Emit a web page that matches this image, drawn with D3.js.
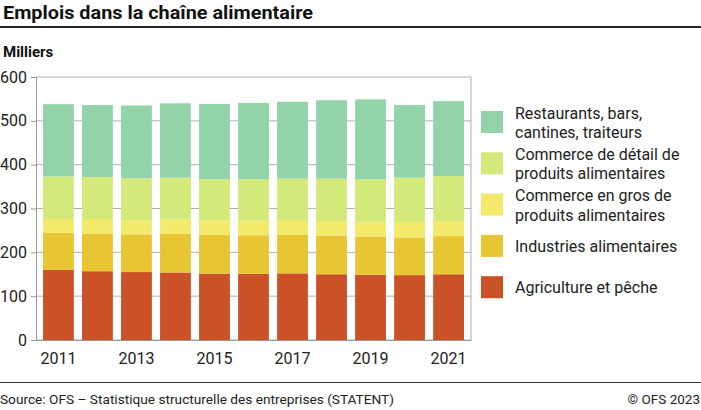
<!DOCTYPE html>
<html lang="fr">
<head>
<meta charset="UTF-8">
<title>Emplois dans la chaîne alimentaire</title>
<script src="https://d3js.org/d3.v7.min.js"></script>
<style>
  body { margin: 0; background: #fff; }
  svg { display: block; font-family: Roboto, "Noto Sans", sans-serif; }
</style>
</head>
<body>
<svg width="701" height="410"></svg>
<script>
// données (milliers d'emplois)
const years = ["2011","2012","2013","2014","2015","2016","2017","2018","2019","2020","2021"];
const agriculture  = [160, 157, 155, 154, 151.5, 151, 152, 150, 149, 148, 150];
const industries   = [84, 86, 86, 88, 88, 88, 87.5, 88, 87, 86, 87];
const commerceGros = [32, 33, 32, 32.5, 33.5, 33, 34.5, 33.5, 34, 35, 34.5];
const commerceDet  = [97, 96, 96, 96, 94, 95, 94, 96.5, 97, 101.5, 102.5];
const restaurants  = [165, 164, 166, 169.5, 171.5, 174, 175.5, 179, 182, 165.5, 171];
const yTicks = [0, 100, 200, 300, 400, 500, 600];
const xTickLabels = ["2011", "2013", "2015", "2017", "2019", "2021"];

const seriesKeys = ["agri", "ind", "gros", "det", "rest"];
const seriesLabels = {
  rest: ["Restaurants, bars,", "cantines, traiteurs"],
  det:  ["Commerce de détail de", "produits alimentaires"],
  gros: ["Commerce en gros de", "produits alimentaires"],
  ind:  ["Industries alimentaires"],
  agri: ["Agriculture et pêche"]
};
const colors = { agri: "#cb5226", ind: "#e8c532", gros: "#f3e96b", det: "#d3e97a", rest: "#93d3a9" };

const table = years.map((y, i) => ({
  year: y, agri: agriculture[i], ind: industries[i], gros: commerceGros[i],
  det: commerceDet[i], rest: restaurants[i]
}));

const svg = d3.select("svg");
const plotL = 36, plotR = 471, plotT = 77, plotB = 340;

// titre
svg.append("text").attr("x", 3).attr("y", 19)
  .attr("font-size", 18).attr("font-weight", "bold").attr("fill", "#111")
  .attr("textLength", 310).attr("lengthAdjust", "spacingAndGlyphs")
  .text("Emplois dans la chaîne alimentaire");
svg.append("line").attr("x1", 0).attr("x2", 701).attr("y1", 27).attr("y2", 27)
  .attr("stroke", "#222").attr("stroke-width", 2);

svg.append("text").attr("x", 3).attr("y", 57)
  .attr("font-size", 15).attr("font-weight", "bold").attr("fill", "#111")
  .text("Milliers");

const x = d3.scaleBand().domain(years).range([plotL, plotR])
  .paddingInner(0.21).paddingOuter(0.18);
const y = d3.scaleLinear().domain([0, 600]).range([plotB, plotT]);

// grille
svg.append("g").selectAll("line").data(yTicks).join("line")
  .attr("x1", plotL).attr("x2", plotR)
  .attr("y1", d => y(d)).attr("y2", d => y(d))
  .attr("stroke", "#b0b0b0").attr("stroke-width", 1);
svg.append("line").attr("x1", plotR).attr("x2", plotR).attr("y1", plotT).attr("y2", plotB)
  .attr("stroke", "#b0b0b0");

// barres empilées
const stack = d3.stack().keys(seriesKeys)(table);
svg.append("g").selectAll("g").data(stack).join("g")
  .attr("fill", d => colors[d.key])
  .selectAll("rect").data(d => d).join("rect")
  .attr("x", d => x(d.data.year))
  .attr("width", x.bandwidth())
  .attr("y", d => y(d[1]))
  .attr("height", d => y(d[0]) - y(d[1]));

// axe y
const yAxis = svg.append("g").attr("transform", `translate(${plotL},0)`)
  .call(d3.axisLeft(y).tickValues(yTicks).tickSize(5).tickPadding(4));
yAxis.select(".domain").attr("stroke", "#999");
yAxis.selectAll(".tick line").attr("stroke", "#999");
yAxis.selectAll("text").attr("font-size", 16).attr("fill", "#222")
  .attr("font-family", "Roboto, sans-serif");

// axe x
const xAxis = svg.append("g").attr("transform", `translate(0,${plotB})`)
  .call(d3.axisBottom(x).tickValues(xTickLabels).tickSize(0).tickPadding(10));
xAxis.select(".domain").attr("stroke", "#999");
xAxis.selectAll("text").attr("font-size", 16).attr("fill", "#222")
  .attr("font-family", "Roboto, sans-serif").attr("dy", "0.9em");

// légende
const legendOrder = ["rest", "det", "gros", "ind", "agri"];
const lg = svg.append("g").selectAll("g").data(legendOrder).join("g")
  .attr("transform", (d, i) => `translate(481,${111 + i * 41.3})`);
lg.append("rect").attr("width", 22).attr("height", 22).attr("fill", d => colors[d]);
lg.each(function(d) {
  const lines = seriesLabels[d];
  const t = d3.select(this).append("text").attr("font-size", 16).attr("fill", "#222");
  const y0 = lines.length === 1 ? 16.8 : 7.8;
  lines.forEach((l, j) => t.append("tspan").attr("x", 34).attr("y", y0 + j * 19.3).text(l));
});

// pied de page
svg.append("line").attr("x1", 0).attr("x2", 701).attr("y1", 382.5).attr("y2", 382.5)
  .attr("stroke", "#333").attr("stroke-width", 1);
svg.append("text").attr("x", 0).attr("y", 403.5)
  .attr("font-size", 13.5).attr("fill", "#222")
  .attr("textLength", 394).attr("lengthAdjust", "spacingAndGlyphs")
  .text("Source: OFS – Statistique structurelle des entreprises (STATENT)");
svg.append("text").attr("x", 700).attr("y", 403.5).attr("text-anchor", "end")
  .attr("font-size", 13.5).attr("fill", "#222")
  .text("© OFS 2023");
</script>
</body>
</html>
